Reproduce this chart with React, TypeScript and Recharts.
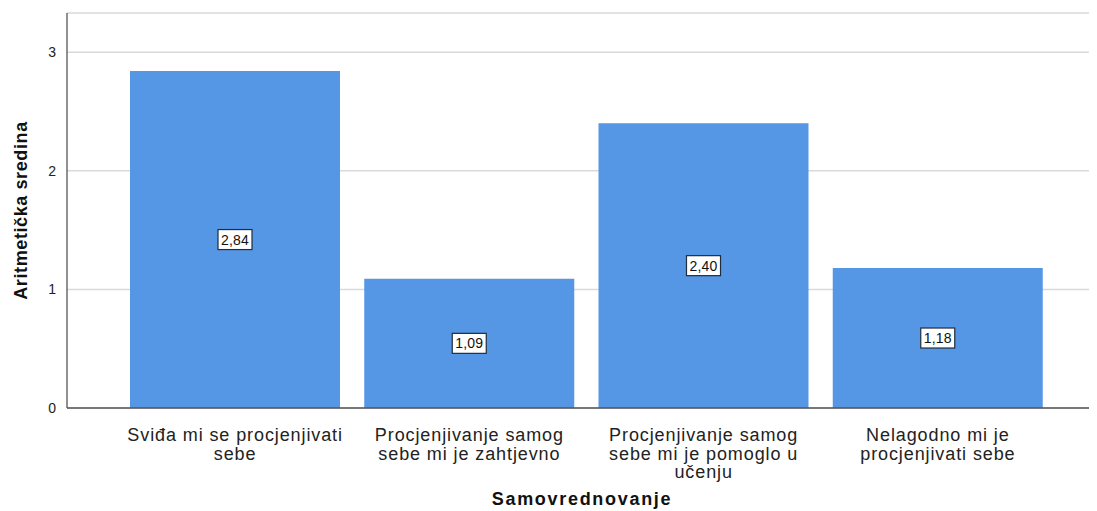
import React from 'react';
import { BarChart, Bar, XAxis, YAxis, CartesianGrid, LabelList, Label } from 'recharts';

// Data
const categories = [
  'Sviđa mi se procjenjivati\nsebe',
  'Procjenjivanje samog\nsebe mi je zahtjevno',
  'Procjenjivanje samog\nsebe mi je pomoglo u\nučenju',
  'Nelagodno mi je\nprocjenjivati sebe',
];
const means = [2.84, 1.09, 2.4, 1.18];
const yTicks = [0, 1, 2, 3];

const data = categories.map((name, i) => ({ name, mean: means[i] }));

const FONT = '"Liberation Sans", Arial, sans-serif';
const BAR_COLOR = '#5596e5';

const fmt = (v: number) => v.toFixed(2).replace('.', ',');

const XTick = ({ x, y, payload }: any) => {
  const lines = String(payload.value).split('\n');
  return (
    <g transform={`translate(${x},${y})`}>
      {lines.map((line: string, i: number) => (
        <text
          key={i}
          x={0}
          y={25 + i * 18.5}
          textAnchor="middle"
          fontFamily={FONT}
          fontSize={18}
          letterSpacing={0.9}
          fill="#222"
        >
          {line}
        </text>
      ))}
    </g>
  );
};

const YTick = ({ x, y, payload }: any) => (
  <text x={x - 2} y={y + 5} textAnchor="end" fontFamily={FONT} fontSize={14} fill="#222">
    {payload.value}
  </text>
);

const ValueBox = (props: any) => {
  const { x, y, width, height, value } = props;
  const cx = x + width / 2;
  const cy = y + height / 2;
  const w = 34;
  const h = 20;
  return (
    <g>
      <rect x={cx - w / 2} y={cy - h / 2} width={w} height={h} fill="#fff" stroke="#1f2d3d" strokeWidth={1.2} />
      <text x={cx} y={cy + 5} textAnchor="middle" fontFamily={FONT} fontSize={14} letterSpacing={0.2} fill="#111">
        {fmt(value)}
      </text>
    </g>
  );
};

const App: React.FC = () => {
  return (
    <div style={{ margin: '-8px 0 0 -8px', width: 1097, height: 511 }}>
      <BarChart
        width={1097}
        height={511}
        data={data}
        margin={{ top: 13, right: 0, bottom: 0, left: 0 }}
        barSize={210}
      >
        <CartesianGrid vertical={false} stroke="#d9d9d9" strokeWidth={1.5} />
        <XAxis
          dataKey="name"
          height={103}
          padding={{ left: 51, right: 42 }}
          tick={<XTick />}
          tickLine={false}
          axisLine={{ stroke: '#555', strokeWidth: 1.3 }}
          interval={0}
        >
          <Label
            value="Samovrednovanje"
            position="insideBottom"
            offset={6}
            style={{ fontFamily: FONT, fontSize: 18, fontWeight: 700, letterSpacing: 1.7, fill: '#111' }}
          />
        </XAxis>
        <YAxis
          width={67}
          domain={[0, 3.33]}
          ticks={yTicks}
          tick={<YTick />}
          tickLine={false}
          tickSize={7}
          axisLine={{ stroke: '#555', strokeWidth: 1.3 }}
          allowDataOverflow
        >
          <Label
            value="Aritmetička sredina"
            angle={-90}
            position="insideLeft"
            offset={21}
            style={{ fontFamily: FONT, fontSize: 18, fontWeight: 700, letterSpacing: 0.6, fill: '#111', textAnchor: 'middle' }}
          />
        </YAxis>
        <Bar dataKey="mean" fill={BAR_COLOR} isAnimationActive={false}>
          <LabelList dataKey="mean" content={<ValueBox />} />
        </Bar>
      </BarChart>
    </div>
  );
};

export default App;
